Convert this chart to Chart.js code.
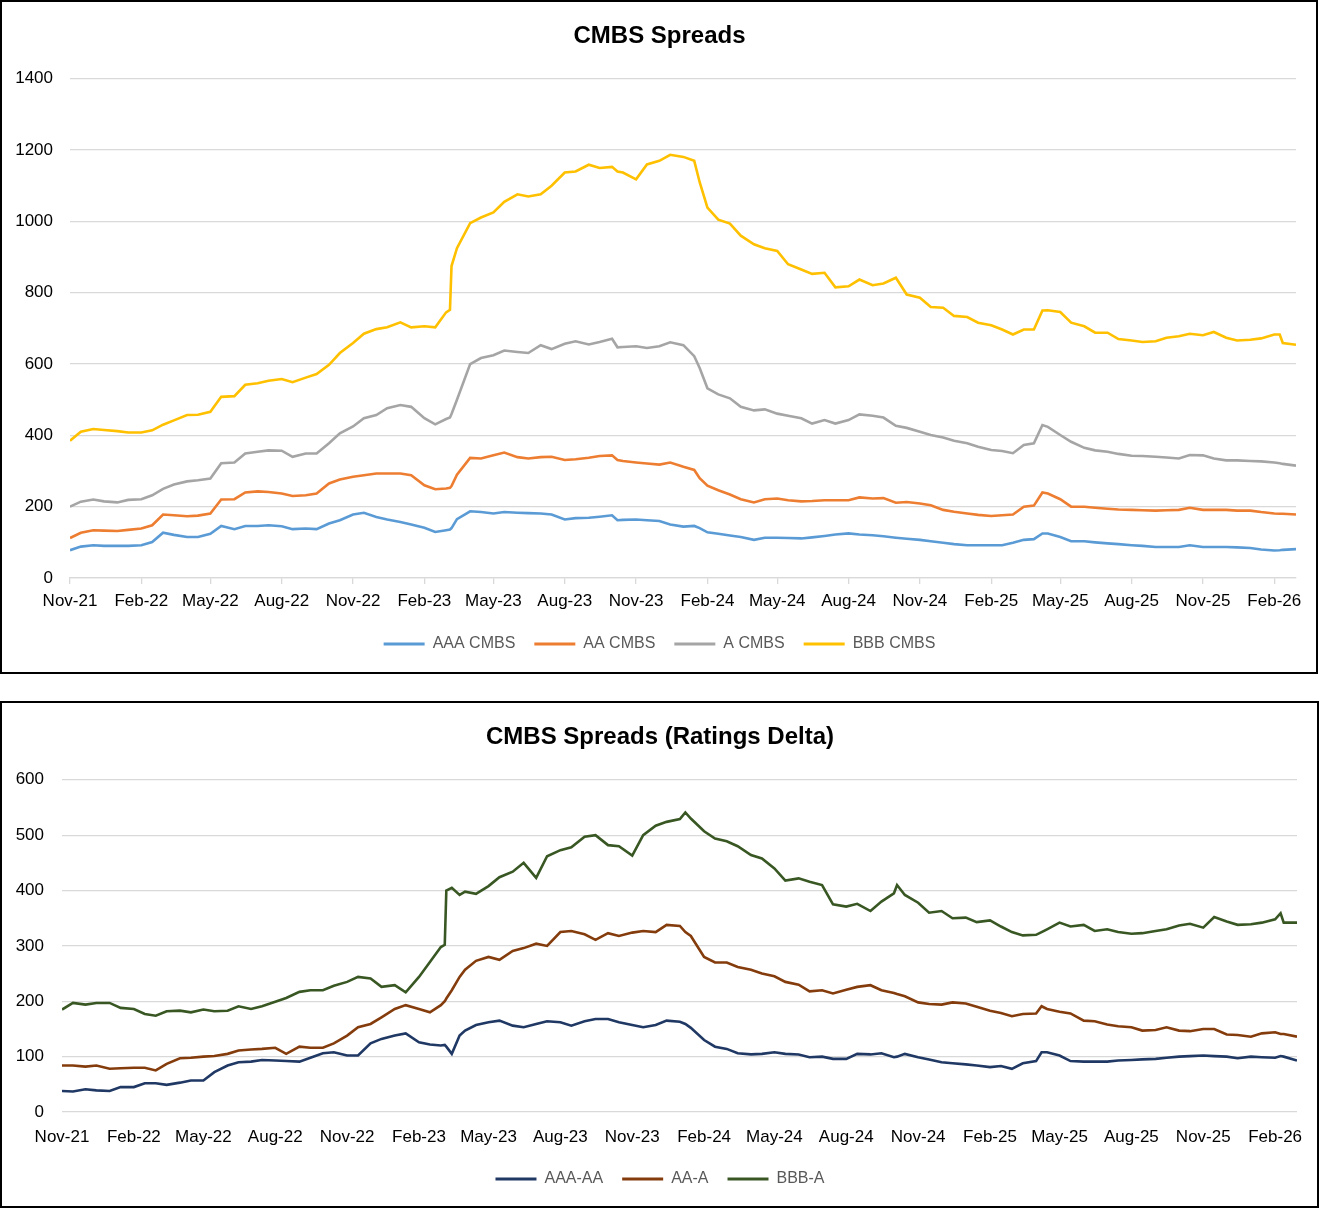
<!DOCTYPE html>
<html><head><meta charset="utf-8">
<script src="https://cdn.jsdelivr.net/npm/chart.js@4"></script>
<style>
html,body{margin:0;padding:0;background:#fff;}
.box{position:absolute;border:2px solid #000;background:#fff;}
#b1{left:0;top:0;width:1314px;height:670px;}
#b2{left:0;top:701px;width:1315px;height:503px;}
canvas{display:block;}
</style></head><body>
<div class="box" id="b1"><canvas id="c1"></canvas></div>
<div class="box" id="b2"><canvas id="c2"></canvas></div>
<script>
// ---- axis ticks ----
const tickDates = ["2021-11-01","2022-02-01","2022-05-01","2022-08-01","2022-11-01","2023-02-01","2023-05-01","2023-08-01","2023-11-01","2024-02-01","2024-05-01","2024-08-01","2024-11-01","2025-02-01","2025-05-01","2025-08-01","2025-11-01","2026-02-01"];
const tickLabels = ["Nov-21","Feb-22","May-22","Aug-22","Nov-22","Feb-23","May-23","Aug-23","Nov-23","Feb-24","May-24","Aug-24","Nov-24","Feb-25","May-25","Aug-25","Nov-25","Feb-26"];

// ---- chart 1: CMBS spreads ----
const dates = ["2021-11-01","2021-11-15","2021-12-01","2021-12-15",
"2022-01-01","2022-01-15","2022-02-01","2022-02-15","2022-03-01","2022-03-15","2022-04-01","2022-04-15","2022-05-01","2022-05-15","2022-06-01","2022-06-15","2022-07-01","2022-07-15","2022-08-01","2022-08-15","2022-09-01","2022-09-15","2022-10-01","2022-10-15","2022-11-01","2022-11-15","2022-12-01","2022-12-15",
"2023-01-01","2023-01-15","2023-02-01","2023-02-15","2023-03-01","2023-03-06","2023-03-08","2023-03-15","2023-04-01","2023-04-15","2023-05-01","2023-05-15","2023-06-01","2023-06-15","2023-07-01","2023-07-15","2023-08-01","2023-08-15","2023-09-01","2023-09-15","2023-10-01","2023-10-08","2023-10-15","2023-11-01","2023-11-15","2023-12-01","2023-12-15",
"2024-01-01","2024-01-15","2024-01-22","2024-02-01","2024-02-15","2024-03-01","2024-03-15","2024-04-01","2024-04-15","2024-05-01","2024-05-15","2024-06-01","2024-06-15","2024-07-01","2024-07-15","2024-08-01","2024-08-15","2024-09-01","2024-09-15","2024-10-01","2024-10-15","2024-11-01","2024-11-15","2024-12-01","2024-12-15",
"2025-01-01","2025-01-15","2025-02-01","2025-02-15","2025-03-01","2025-03-15","2025-03-28","2025-04-08","2025-04-15","2025-05-01","2025-05-15","2025-06-01","2025-06-15","2025-07-01","2025-07-15","2025-08-01","2025-08-15","2025-09-01","2025-09-15","2025-10-01","2025-10-15","2025-11-01","2025-11-15","2025-12-01","2025-12-15",
"2026-01-01","2026-01-15","2026-02-01","2026-02-08","2026-02-12","2026-03-01"];

const aaaCmbs = [78,88,92,90,
90,90,92,101,127,121,115,115,124,146,137,146,146,148,145,137,139,137,153,162,178,183,171,164,
157,150,141,129,134,136,140,165,187,185,181,185,183,182,181,178,164,168,169,172,176,162,163,164,162,160,150,
144,146,140,128,124,119,115,107,113,113,112,111,114,118,122,125,122,120,117,113,110,107,103,99,95,
92,92,92,92,99,107,109,125,125,115,103,103,100,97,95,92,90,87,87,87,92,87,87,87,86,
84,80,77,78,79,81];

const aaCmbs = [112,127,134,133,
132,135,139,148,178,176,173,175,181,220,221,240,243,241,237,230,232,237,265,276,284,288,293,293,
293,288,260,249,251,253,258,290,337,335,344,352,339,335,339,340,331,333,337,342,344,331,328,324,321,318,324,
312,303,280,259,246,234,221,212,221,223,218,215,216,218,218,218,226,223,224,211,213,209,204,191,186,
181,177,174,176,178,200,203,240,237,221,200,200,197,194,192,191,190,189,190,191,197,191,191,191,189,
189,185,181,180,180,178];

const aCmbs = [200,214,220,215,
212,219,221,232,250,262,271,274,279,322,324,349,354,358,357,340,349,349,378,406,425,448,457,476,
485,480,448,431,446,450,460,500,600,617,625,638,634,631,653,642,657,664,655,662,671,647,648,650,645,650,661,
653,622,589,532,515,504,480,470,473,461,455,448,433,443,433,443,459,455,450,427,421,410,401,394,385,
378,368,359,356,350,373,378,429,424,401,382,365,358,354,348,343,342,340,338,335,345,344,335,330,330,
328,327,324,322,320,315];

const bbbCmbs = [385,410,418,415,
412,408,408,414,430,442,457,458,466,508,510,542,546,553,558,549,562,572,598,631,659,685,698,703,
717,703,706,703,745,752,875,925,995,1011,1025,1055,1076,1070,1076,1100,1137,1140,1159,1150,1153,1140,1137,1118,1160,1170,1187,
1181,1170,1110,1039,1005,994,960,936,925,917,880,865,853,856,815,818,837,821,826,842,795,786,760,758,735,
732,716,709,697,683,697,697,750,751,746,716,706,688,688,670,666,662,664,674,678,685,681,690,674,666,
668,672,683,683,659,654];

// ---- chart 2: ratings delta ----
const deltaDates = ["2021-11-01","2021-11-15","2021-12-01","2021-12-15",
"2022-01-01","2022-01-15","2022-02-01","2022-02-15","2022-03-01","2022-03-15","2022-04-01","2022-04-15","2022-05-01","2022-05-15","2022-06-01","2022-06-15","2022-07-01","2022-07-15","2022-08-01","2022-08-15","2022-09-01","2022-09-15","2022-10-01","2022-10-15","2022-11-01","2022-11-15","2022-12-01","2022-12-15",
"2023-01-01","2023-01-15","2023-02-01","2023-02-15","2023-03-01","2023-03-06","2023-03-08","2023-03-15","2023-03-25","2023-04-01","2023-04-15","2023-05-01","2023-05-15","2023-06-01","2023-06-15","2023-07-01","2023-07-15","2023-08-01","2023-08-15","2023-09-01","2023-09-15","2023-10-01","2023-10-15","2023-11-01","2023-11-15","2023-12-01","2023-12-15",
"2024-01-01","2024-01-08","2024-01-15","2024-02-01","2024-02-15","2024-03-01","2024-03-15","2024-04-01","2024-04-15","2024-05-01","2024-05-15","2024-06-01","2024-06-15","2024-07-01","2024-07-15","2024-08-01","2024-08-15","2024-09-01","2024-09-15","2024-10-01","2024-10-05","2024-10-15","2024-11-01","2024-11-15","2024-12-01","2024-12-15",
"2025-01-01","2025-01-15","2025-02-01","2025-02-15","2025-03-01","2025-03-15","2025-04-01","2025-04-08","2025-04-15","2025-05-01","2025-05-15","2025-06-01","2025-06-15","2025-07-01","2025-07-15","2025-08-01","2025-08-15","2025-09-01","2025-09-15","2025-10-01","2025-10-15","2025-11-01","2025-11-15","2025-12-01","2025-12-15",
"2026-01-01","2026-01-15","2026-02-01","2026-02-08","2026-02-12","2026-03-01"];

const aaaMinusAa = [38,37,41,39,
38,45,45,52,52,49,53,57,57,72,84,90,91,94,93,92,91,98,106,108,102,102,124,132,
138,142,126,122,120,121,118,105,138,147,157,162,165,156,153,159,164,162,156,164,168,168,162,157,153,157,165,
163,159,152,130,118,114,106,104,105,108,105,104,99,100,96,96,105,104,106,99,100,105,99,95,90,88,
86,84,81,83,78,88,92,108,108,102,92,91,91,91,93,94,95,96,98,100,101,102,101,100,97,
100,99,98,101,100,93];

const aaMinusA = [84,84,82,84,
78,79,80,80,75,87,97,98,100,101,105,111,113,114,116,105,118,116,116,124,138,153,159,171,
186,193,186,180,193,200,205,220,244,257,273,280,275,291,296,304,300,325,327,321,311,323,318,324,327,325,338,
336,325,318,280,270,270,262,257,250,245,235,230,218,220,214,221,226,229,220,215,213,209,198,195,194,198,
196,190,183,179,173,177,178,191,186,181,178,165,164,158,155,153,147,148,153,147,146,150,150,140,139,
136,142,144,141,141,136];

const bbbMinusA = [185,197,194,197,
197,188,186,177,174,182,183,180,185,182,183,191,186,191,199,206,217,220,220,228,235,244,241,226,
229,216,244,271,298,302,400,405,392,398,394,408,424,434,450,423,462,473,478,497,500,482,480,463,500,517,524,
529,541,530,507,494,489,480,464,458,440,418,422,416,410,375,371,376,363,380,395,410,392,378,360,363,350,
351,343,346,335,325,319,320,325,330,342,335,338,327,330,325,322,323,327,330,337,340,333,352,344,338,
339,342,348,359,342,342];

// ---- helpers ----
const DAY0 = Date.parse("2021-11-01");
const day = s => (Date.parse(s) - DAY0) / 86400000;
const pts = (ds, vs) => ds.map((d, i) => ({x: day(d), y: vs[i]}));
const FONT = "'Liberation Sans', Arial, sans-serif";
const GRID = '#d9d9d9';

// let the y tick labels use the space left of the axis box (no clipping)
const unclipY = {id: 'unclipY', afterLayout(chart) { chart.scales.y.left = 0; }};

function legendLabels(chart) {
  return Chart.defaults.plugins.legend.labels.generateLabels(chart)
    .map(l => Object.assign(l, {fillStyle: l.strokeStyle, lineWidth: 0}));
}
function line(label, ds, vs, color) {
  return {label, data: pts(ds, vs), borderColor: color, backgroundColor: color,
          borderWidth: 2.6, pointRadius: 0, fill: false, tension: 0};
}
function makeChart(id, cfg) {
  return new Chart(document.getElementById(id), {
    type: 'line',
    data: {datasets: cfg.datasets},
    plugins: [unclipY],
    options: {
      responsive: true, maintainAspectRatio: false, animation: false,
      layout: {padding: {left: 21, right: 20, top: 0, bottom: cfg.padBottom}},
      plugins: {
        title: {display: true, text: cfg.title, color: '#000',
                font: {family: FONT, size: 24, weight: 'bold'},
                padding: {top: cfg.titleTop, bottom: cfg.titleBottom}},
        legend: {position: 'bottom',
                 labels: {boxWidth: 41, boxHeight: 3, padding: 19, color: '#595959',
                          font: {family: FONT, size: 16}, generateLabels: legendLabels}},
        tooltip: {enabled: false}
      },
      scales: {
        x: {type: 'linear', min: 0, max: day(cfg.dates[cfg.dates.length - 1]),
            afterBuildTicks: s => { s.ticks = tickDates.map(d => ({value: day(d)})); },
            afterFit: s => { s.height = cfg.xHeight; },
            ticks: {autoSkip: false, maxRotation: 0, minRotation: 0, padding: cfg.xPad,
                    color: '#000', font: {family: FONT, size: 17},
                    callback: (v, i) => tickLabels[i]},
            grid: cfg.xTicks ? {display: true, drawOnChartArea: false, drawTicks: true, tickLength: 6, color: GRID, lineWidth: 1.3}
                             : {display: false},
            border: {display: cfg.xTicks, color: GRID, width: 1.3}},
        y: {min: 0, max: cfg.yMax,
            afterFit: s => { s.width = cfg.yWidth; },
            ticks: {stepSize: cfg.yStep, padding: cfg.yPad, color: '#000', font: {family: FONT, size: 17},
                    callback: v => String(v)},
            grid: {color: GRID, lineWidth: 1.3, drawTicks: false},
            border: {display: false}}
      }
    }
  });
}

makeChart('c1', {
  title: 'CMBS Spreads', dates,
  datasets: [
    line('AAA CMBS', dates, aaaCmbs, '#5B9BD5'),
    line('AA CMBS', dates, aaCmbs, '#ED7D31'),
    line('A CMBS', dates, aCmbs, '#A5A5A5'),
    line('BBB CMBS', dates, bbbCmbs, '#FFC000')
  ],
  yMax: 1400, yStep: 200, yWidth: 47, yPad: 17,
  xHeight: 39, xPad: 7, xTicks: true,
  titleTop: 20, titleBottom: 28, padBottom: 10
});

makeChart('c2', {
  title: 'CMBS Spreads (Ratings Delta)', dates: deltaDates,
  datasets: [
    line('AAA-AA', deltaDates, aaaMinusAa, '#203864'),
    line('AA-A', deltaDates, aaMinusA, '#843C0C'),
    line('BBB-A', deltaDates, bbbMinusA, '#385723')
  ],
  yMax: 600, yStep: 100, yWidth: 39, yPad: 18,
  xHeight: 40, xPad: 7, xTicks: false,
  titleTop: 20, titleBottom: 28, padBottom: 9
});
</script>
</body></html>
